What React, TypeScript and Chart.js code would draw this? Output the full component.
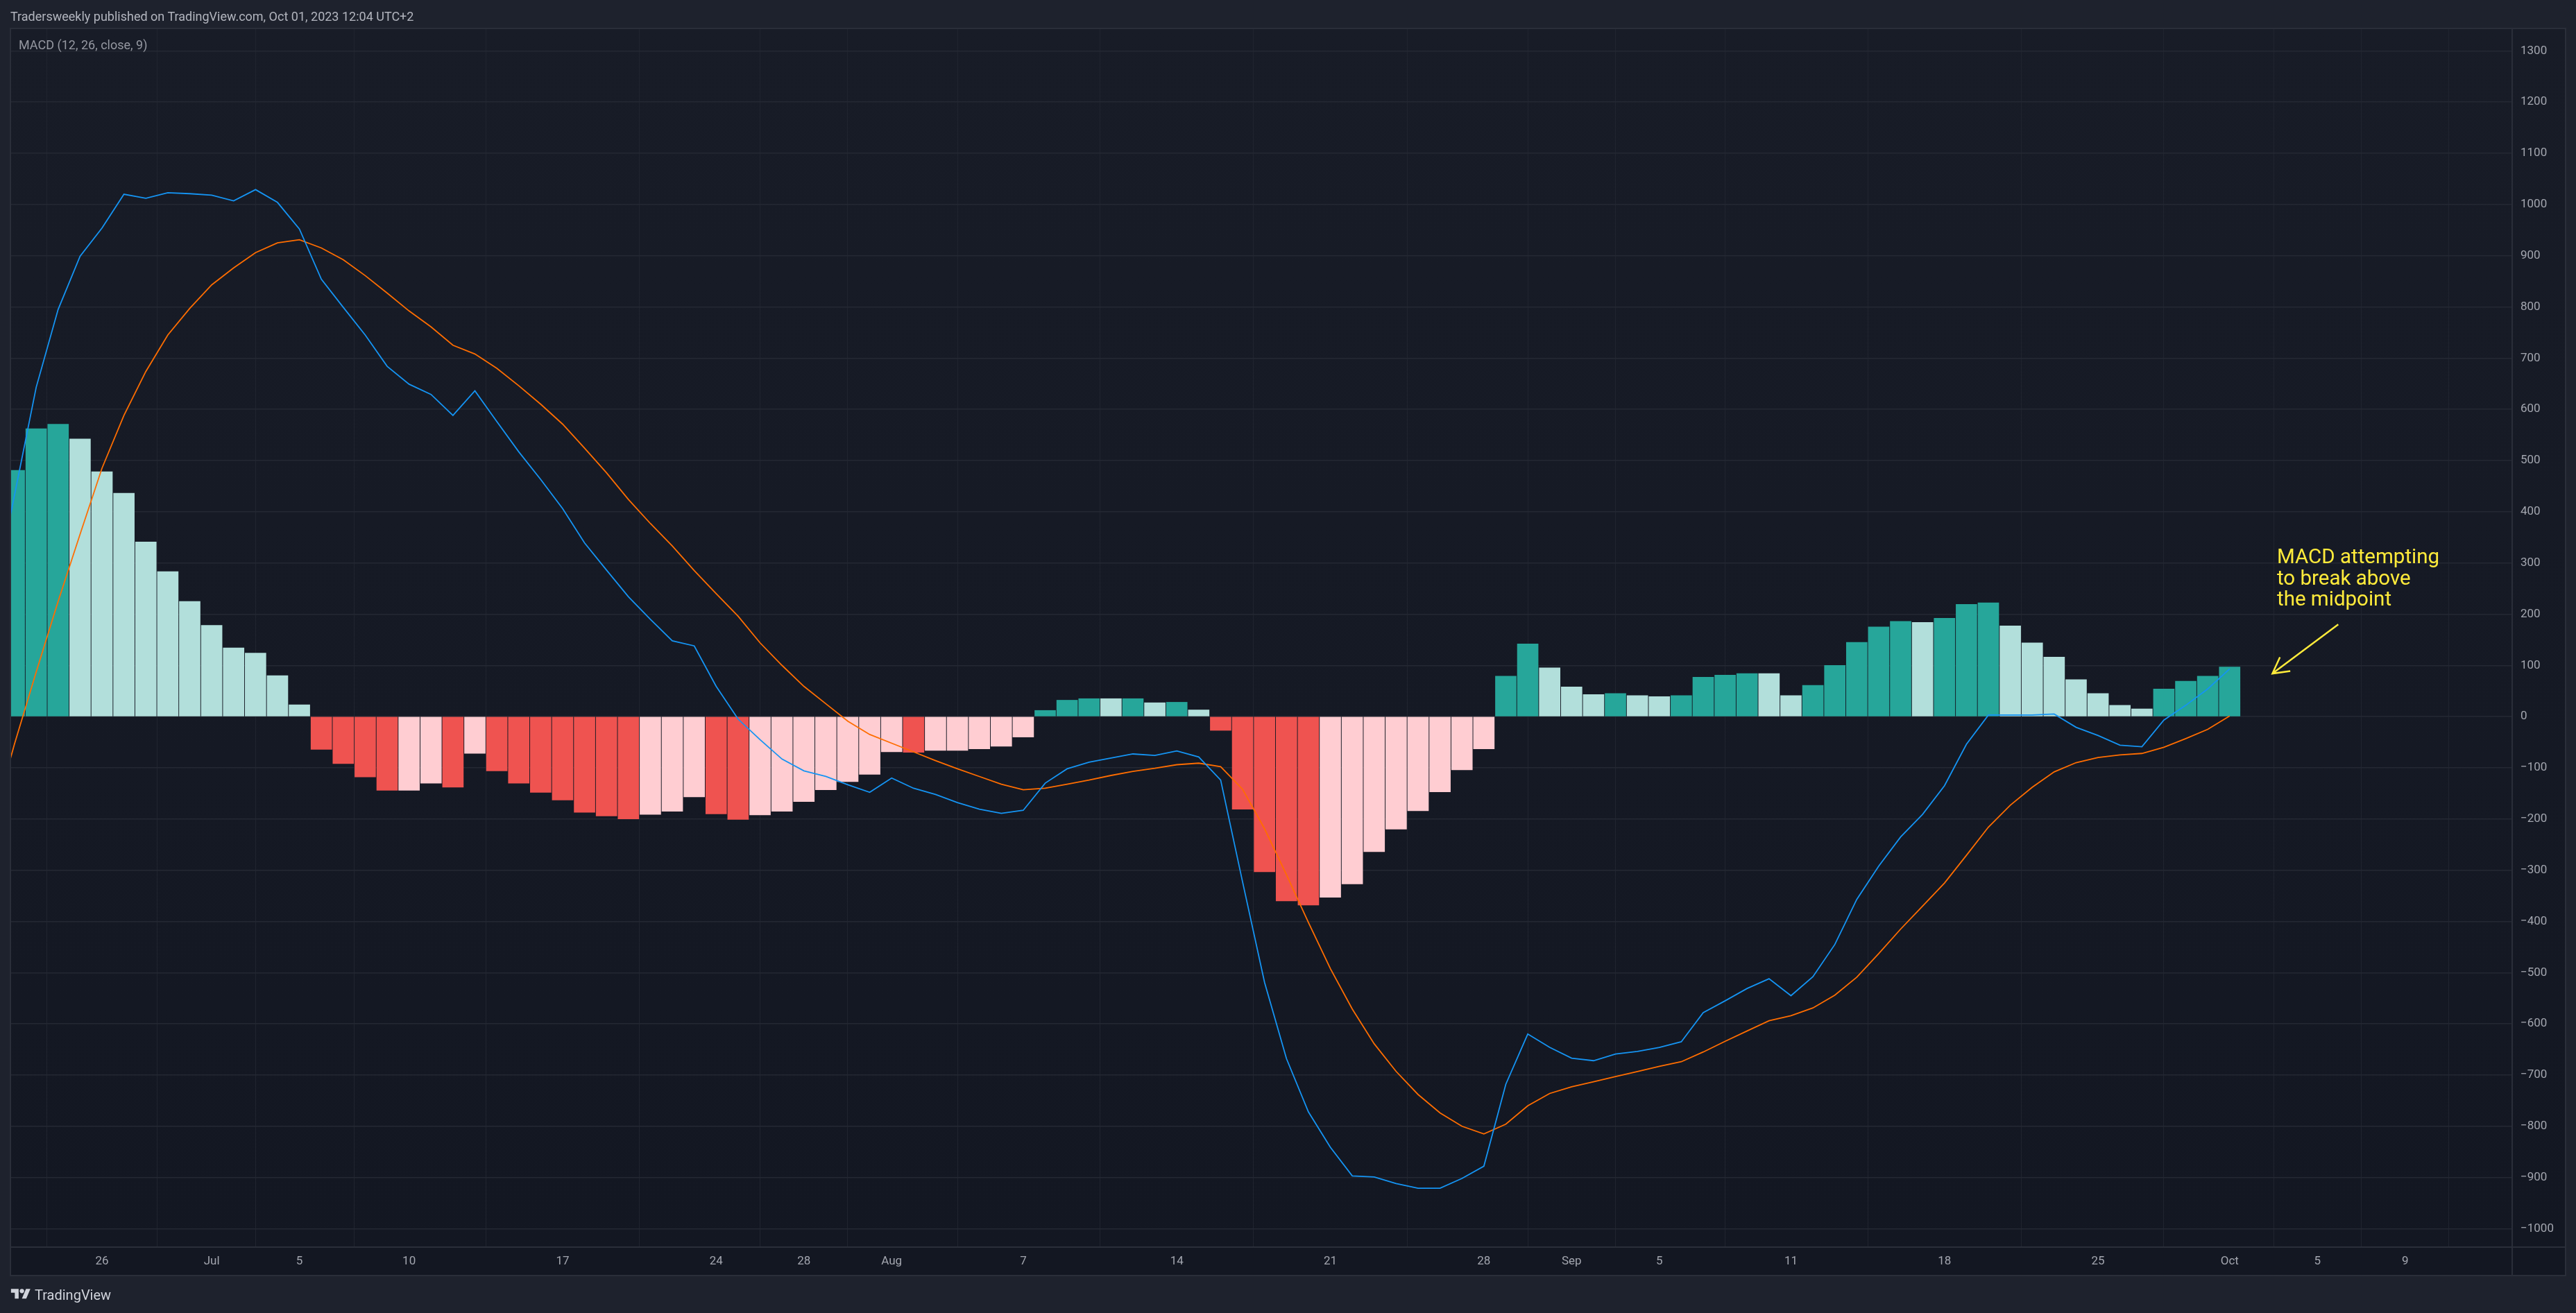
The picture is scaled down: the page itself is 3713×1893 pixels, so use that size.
import { Chart, registerables } from "chart.js";
import { useEffect, useRef } from "react";

Chart.register(...registerables);

// histogram, one value a day starting Jun 22
const histValues = [
  481, 562, 571, 542, 478, 436, 341, 283, 225, 178, 134, 124, 80, 23,
  -64, -92, -118, -144, -144, -130, -138, -72, -106, -130, -148, -163, -187, -194,
  -200, -191, -185, -157, -190, -201, -192, -185, -166, -143, -127, -113, -69, -70,
  -66, -66, -63, -58, -40, 12, 32, 35, 35, 35, 27, 28, 13, -27,
  -181, -303, -360, -368, -353, -327, -264, -220, -184, -147, -104, -63,
  79, 142, 95, 58, 43, 45, 41, 39, 41, 77, 81, 84, 84, 41, 61, 100,
  145, 175, 186, 184, 192, 219, 222, 177, 144, 116, 72, 45, 22, 15, 54, 69, 79, 97,
];

// d = dark teal, l = light teal, r = red, p = pink
const histTones = [
  "d","d","d","l","l","l","l","l","l","l","l","l","l","l",
  "r","r","r","r","p","p","r","p","r","r","r","r","r","r",
  "r","p","p","p","r","r","p","p","p","p","p","p","p","r",
  "p","p","p","p","p","d","d","d","l","d","l","d","l","r",
  "r","r","r","r","p","p","p","p","p","p","p","p",
  "d","d","l","l","l","d","l","l","d","d","d","d","l","l","d","d",
  "d","d","d","l","d","d","d","l","l","l","l","l","l","l","d","d","d","d",
];

// the lines start one day before the first bar, so they run off the left edge
const macdValues = [
  217, 430, 643, 795, 899, 954, 1020, 1012, 1023, 1021, 1018, 1007, 1029, 1004, 952,
  854, 799, 745, 684, 649, 629, 588, 636, 576, 517, 463, 406, 339, 286,
  234, 190, 148, 138, 59, -5, -45, -83, -106, -117, -133, -148, -120, -140,
  -152, -168, -181, -189, -183, -130, -102, -89, -81, -73, -76, -67, -79, -124,
  -323, -519, -668, -772, -841, -897, -899, -912, -921, -921, -902, -878,
  -718, -620, -646, -667, -672, -659, -654, -646, -635, -578, -555, -531, -512, -545,
  -508, -445, -357, -292, -235, -191, -135, -54, 3, 3, 3, 5, -21, -37, -56, -59, -7, 22, 54, 93,
];

const signalValues = [
  -210, -55, 87, 225, 356, 485, 588, 674, 745, 797, 843, 876, 906, 925, 931,
  915, 892, 861, 827, 792, 761, 725, 708, 680, 646, 610, 571, 524, 476,
  424, 377, 333, 285, 240, 196, 144, 100, 59, 25, -9, -35, -52, -69,
  -86, -102, -117, -132, -143, -140, -132, -124, -115, -107, -101, -94, -91, -98,
  -142, -219, -309, -402, -492, -571, -639, -693, -738, -774, -800, -815,
  -796, -760, -736, -723, -713, -703, -693, -683, -674, -655, -634, -614, -594, -584,
  -569, -544, -509, -463, -415, -370, -325, -271, -216, -173, -138, -108, -90, -80, -75, -72, -60, -43, -25, 1,
];

const tickDays = [4, 9, 13, 18, 25, 32, 36, 40, 46, 53, 60, 67, 71, 75, 81, 88, 95, 101, 105, 109];
const tickLabels = ["26", "Jul", "5", "10", "17", "24", "28", "Aug", "7", "14", "21", "28", "Sep", "5", "11", "18", "25", "Oct", "5", "9"];

// arrow of the note: [day, value]
const arrowTail = [105.95, 180];
const arrowTip = [102.95, 84];

const toneColors: Record<string, string> = { d: "#26a69a", l: "#b2dfdb", r: "#ef5350", p: "#ffcdd2" };

const PAGE_BG = "#1e222d";
const FRAME = "#2a2e39";
const FONT = "Roboto, sans-serif";

const panelPlugin = {
  id: "panel",
  beforeDraw(chart: any) {
    const { ctx, chartArea: a, scales } = chart;
    const right = scales.y.right;
    const bottom = scales.x.bottom;
    ctx.save();
    ctx.fillStyle = PAGE_BG;
    ctx.fillRect(0, 0, chart.width, chart.height);
    const grad = ctx.createLinearGradient(0, a.top, 0, a.bottom);
    grad.addColorStop(0, "#181c27");
    grad.addColorStop(1, "#131722");
    ctx.fillStyle = grad;
    ctx.fillRect(a.left, a.top, right - a.left, a.bottom - a.top);
    ctx.fillStyle = "#131722";
    ctx.fillRect(a.left, a.bottom, right - a.left, bottom - a.bottom);
    ctx.restore();
  },
  afterDraw(chart: any) {
    const { ctx, chartArea: a, scales } = chart;
    const right = scales.y.right;
    const bottom = scales.x.bottom;
    ctx.save();
    ctx.strokeStyle = FRAME;
    ctx.lineWidth = 2;
    ctx.strokeRect(a.left, a.top, right - a.left, bottom - a.top);
    ctx.beginPath();
    ctx.moveTo(a.right, a.top);
    ctx.lineTo(a.right, bottom);
    ctx.moveTo(a.left, a.bottom);
    ctx.lineTo(right, a.bottom);
    ctx.stroke();
    ctx.restore();
  },
  afterDatasetsDraw(chart: any) {
    const { ctx, scales } = chart;
    const x0 = scales.x.getPixelForValue(arrowTail[0]);
    const y0 = scales.y.getPixelForValue(arrowTail[1]);
    const x1 = scales.x.getPixelForValue(arrowTip[0]);
    const y1 = scales.y.getPixelForValue(arrowTip[1]);
    const ang = Math.atan2(y1 - y0, x1 - x0);
    ctx.save();
    ctx.strokeStyle = "#ffeb3b";
    ctx.lineWidth = 2.5;
    ctx.beginPath();
    ctx.moveTo(x0, y0);
    ctx.lineTo(x1, y1);
    ctx.moveTo(x1 - 26 * Math.cos(ang - 0.5), y1 - 26 * Math.sin(ang - 0.5));
    ctx.lineTo(x1, y1);
    ctx.lineTo(x1 - 26 * Math.cos(ang + 0.5), y1 - 26 * Math.sin(ang + 0.5));
    ctx.stroke();
    ctx.restore();
  },
};

export default function App() {
  const canvasRef = useRef<HTMLCanvasElement | null>(null);

  useEffect(() => {
    document.body.style.margin = "0";
    document.body.style.background = PAGE_BG;
    const ctx = canvasRef.current?.getContext("2d");
    if (!ctx) return;

    const chart = new Chart(ctx, {
      type: "bar",
      data: {
        datasets: [
          {
            type: "line",
            data: macdValues.map((y, i) => ({ x: i - 1, y })),
            borderColor: "#1594f3",
            borderWidth: 1.8,
            pointRadius: 0,
            tension: 0,
            order: 0,
          },
          {
            type: "line",
            data: signalValues.map((y, i) => ({ x: i - 1, y })),
            borderColor: "#ff6d00",
            borderWidth: 1.8,
            pointRadius: 0,
            tension: 0,
            order: 1,
          },
          {
            type: "bar",
            data: histValues.map((y, x) => ({ x, y })),
            backgroundColor: histTones.map((t) => toneColors[t]),
            barThickness: 30,
            order: 2,
          },
        ],
      },
      options: {
        animation: false,
        responsive: false,
        devicePixelRatio: 1,
        layout: { padding: { left: 15, top: 41, right: 15, bottom: 54 } },
        plugins: { legend: { display: false }, tooltip: { enabled: false } },
        scales: {
          x: {
            type: "linear",
            min: -0.176,
            max: 113.88,
            offset: false,
            afterBuildTicks: (scale: any) => {
              scale.ticks = tickDays.map((value) => ({ value }));
            },
            afterFit: (scale: any) => {
              scale.height = 41;
            },
            grid: { color: "#20242f", lineWidth: 1, drawTicks: false },
            border: { display: false },
            ticks: {
              autoSkip: false,
              maxRotation: 0,
              padding: 11,
              color: "#a3a6af",
              font: { family: FONT, size: 17 },
              callback: (value: any) => tickLabels[tickDays.indexOf(Number(value))],
            },
          },
          y: {
            position: "right",
            min: -1036,
            max: 1343.7,
            afterFit: (scale: any) => {
              scale.width = 77;
            },
            grid: { color: "#242833", lineWidth: 1.5, drawTicks: false },
            border: { display: false },
            ticks: {
              stepSize: 100,
              includeBounds: false,
              padding: 12,
              color: "#a3a6af",
              font: { family: FONT, size: 17 },
              callback: (value: any) => (value < 0 ? `\u2212${-value}` : `${value}`),
            },
          },
        },
      },
      plugins: [panelPlugin],
    });

    return () => chart.destroy();
  }, []);

  const label = { position: "absolute", whiteSpace: "nowrap", fontFamily: FONT } as const;

  return (
    <div style={{ position: "relative", width: 3713, height: 1893, overflow: "hidden" }}>
      <canvas ref={canvasRef} width={3713} height={1893} style={{ display: "block" }} />
      <div style={{ ...label, left: 15, top: 13, fontSize: 18, color: "#b2b5be" }}>
        Tradersweekly published on TradingView.com, Oct 01, 2023 12:04 UTC+2
      </div>
      <div style={{ ...label, left: 27, top: 54, fontSize: 18, color: "#9598a1" }}>MACD (12, 26, close, 9)</div>
      <div style={{ ...label, left: 3282, top: 787, fontSize: 29.5, lineHeight: "30.5px", color: "#ffeb3b" }}>
        MACD attempting
        <br />
        to break above
        <br />
        the midpoint
      </div>
      <svg style={{ position: "absolute", left: 15, top: 1855 }} width="30" height="22" viewBox="0 0 36 28">
        <path d="M14 22H7V11H0V4h14v18zM28 22h-8l7.5-18h8L28 22z" fill="#d1d4dc" />
        <circle cx="20" cy="8" r="4" fill="#d1d4dc" />
      </svg>
      <div style={{ ...label, left: 50, top: 1855, fontSize: 20, color: "#d1d4dc" }}>TradingView</div>
    </div>
  );
}
